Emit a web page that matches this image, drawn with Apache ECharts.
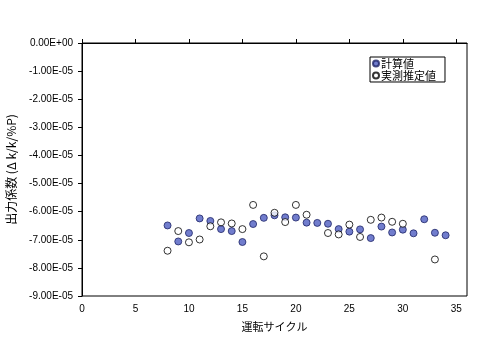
<!DOCTYPE html>
<html>
<head>
<meta charset="utf-8">
<script src="https://cdn.jsdelivr.net/npm/echarts@6/dist/echarts.min.js"></script>
<style>
  html, body { margin: 0; padding: 0; background: #fff; }
  #chart { width: 495px; height: 352px; }
</style>
</head>
<body>
<div id="chart"></div>
<script>
// 計算値
const calcCycles = [8, 9, 10, 11, 12, 13, 14, 15, 16, 17, 18, 19, 20, 21, 22, 23, 24, 25, 26, 27, 28, 29, 30, 31, 32, 33, 34];
const calcValues = [-6.49e-5, -7.06e-5, -6.76e-5, -6.24e-5, -6.33e-5, -6.62e-5, -6.69e-5, -7.08e-5, -6.44e-5, -6.22e-5,
  -6.13e-5, -6.20e-5, -6.21e-5, -6.39e-5, -6.40e-5, -6.43e-5, -6.62e-5, -6.71e-5, -6.63e-5, -6.94e-5,
  -6.53e-5, -6.74e-5, -6.64e-5, -6.77e-5, -6.27e-5, -6.75e-5, -6.84e-5];
// 実測推定値
const measCycles = [8, 9, 10, 11, 12, 13, 14, 15, 16, 17, 18, 19, 20, 21, 23, 24, 25, 26, 27, 28, 29, 30, 33];
const measValues = [-7.39e-5, -6.69e-5, -7.09e-5, -6.99e-5, -6.52e-5, -6.38e-5, -6.42e-5, -6.62e-5, -5.76e-5, -7.59e-5,
  -6.04e-5, -6.37e-5, -5.76e-5, -6.11e-5, -6.76e-5, -6.81e-5, -6.46e-5, -6.90e-5, -6.29e-5, -6.21e-5,
  -6.36e-5, -6.43e-5, -7.70e-5];

const chart = echarts.init(document.getElementById("chart"));

function sciLabel(v) {
  if (Math.abs(v) < 1e-12) return "0.00E+00";
  let s = v.toExponential(2); // e.g. -1.00e-5
  let parts = s.split("e");
  let exp = parseInt(parts[1], 10);
  let sign = exp < 0 ? "-" : "+";
  let e = String(Math.abs(exp)).padStart(2, "0");
  return parts[0] + "E" + sign + e;
}

const labelFont = "Liberation Sans, Arial, sans-serif";
const jpFont = "Noto Sans CJK JP, sans-serif";

const option = {
  animation: false,
  backgroundColor: "#fff",
  grid: {
    left: 82, top: 43, right: 28, bottom: 56,
    outerBoundsMode: "none",
    containLabel: false,
    show: true, borderColor: "#000", borderWidth: 1
  },
  legend: {
    orient: "vertical",
    left: 370, top: 57,
    itemWidth: 6, itemHeight: 6, itemGap: 1,
    padding: [1, 9, 1, 2],
    borderColor: "#000", borderWidth: 1,
    textStyle: { fontSize: 11, fontFamily: jpFont, color: "#000", padding: [0, 0, 0, -3] },
    data: [
      { name: "計算値", icon: "circle" },
      { name: "実測推定値", icon: "circle" }
    ]
  },
  xAxis: {
    type: "value",
    min: 0, max: 36, interval: 5,
    name: "運転サイクル",
    nameLocation: "middle",
    nameGap: 25,
    nameTextStyle: { fontSize: 11, fontFamily: jpFont, color: "#000" },
    axisLine: { lineStyle: { color: "#000" } },
    axisTick: { inside: true, length: 4, lineStyle: { color: "#000" } },
    axisLabel: {
      fontSize: 10, fontFamily: labelFont, color: "#000", margin: 8,
      showMaxLabel: false
    },
    splitLine: { show: false }
  },
  yAxis: {
    type: "value",
    min: -9e-5, max: 0, interval: 1e-5,
    name: "出力係数 (Δ k/k/%P)",
    nameLocation: "middle",
    nameGap: 65,
    nameTextStyle: { fontSize: 12, fontFamily: jpFont, color: "#000" },
    axisLine: { lineStyle: { color: "#000" } },
    axisTick: { length: 4, lineStyle: { color: "#000" } },
    axisLabel: {
      fontSize: 10, fontFamily: labelFont, color: "#000", margin: 9,
      formatter: sciLabel
    },
    splitLine: { show: false }
  },
  series: [
    {
      name: "計算値",
      type: "scatter",
      symbol: "circle",
      symbolSize: 7,
      itemStyle: { color: "#4d5cc0", borderColor: "#1e2466", borderWidth: 1 },
      data: calcCycles.map((c, i) => [c, calcValues[i]])
    },
    {
      name: "実測推定値",
      type: "scatter",
      symbol: "circle",
      symbolSize: 7,
      itemStyle: { color: "#fff", borderColor: "#000", borderWidth: 1 },
      data: measCycles.map((c, i) => [c, measValues[i]])
    }
  ]
};

chart.setOption(option);
window.onresize = function () {
  chart.resize();
};
</script>
</body>
</html>
